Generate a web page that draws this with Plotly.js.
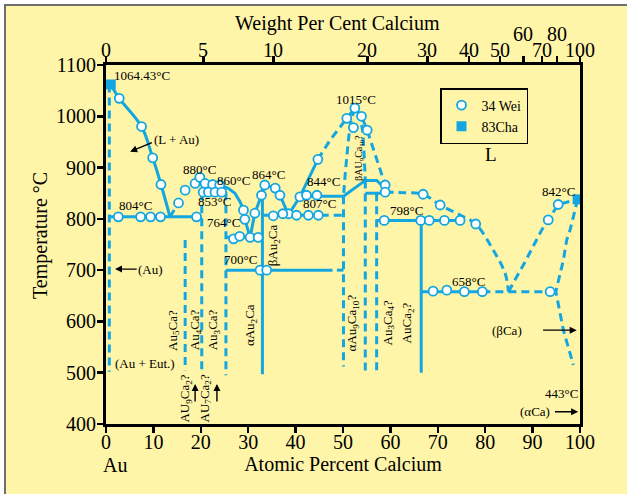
<!DOCTYPE html>
<html>
<head>
<meta charset="utf-8">
<script src="https://cdn.plot.ly/plotly-3.0.1.min.js"></script>
<style>
html,body{margin:0;padding:0;background:#ffffff;}
#plot{width:627px;height:494px;}
</style>
</head>
<body>
<div id="plot"></div>
<script>
// ---------- DATA (atomic % Ca, temperature °C) ----------
// Au-side liquidus
const auLiqX = [1, 2.8, 7.5, 9.85, 11.6, 13.5];
const auLiqT = [1062, 1035, 980, 919, 867, 804];
// 804 °C eutectic
const eut804X = [0.7, 20.2];
const eut804T = [804, 804];
// rising branch to 880 °C (dashed part, then solid part)
const rise880X = [13.5, 15.3, 16.7, 18.2];
const rise880T = [804, 831, 856, 868];
const liq880X = [18.2, 19.8, 20.9, 22.5, 24, 25.8, 27.2, 28.3, 29, 29.3, 29.9, 30.4];
const liq880T = [868, 881, 869, 867, 866, 859.5, 850, 833, 817, 799, 782, 764];
// 853 °C and 764 °C horizontals
const eut853X = [20.2, 25.3];
const eut853T = [852, 852];
const eut764X = [25.3, 33.0];
const eut764T = [764, 764];
// liquidus around Au2Ca (864 °C)
const liq864X = [30.4, 31.4, 32.8, 33.5, 35.7, 36.7, 38.5];
const liq864T = [764, 811, 846, 866, 860, 846, 808];
// Au2Ca line
const au2caX = [33.0, 33.0];
const au2caT = [866, 497];
// 700 °C transformation
const tr700X = [25.3, 47.8];
const tr700T = [700, 700];
const tr700bX = [48.7, 50.1];
const tr700bT = [700, 700];
// 807 °C eutectic
const eut807X = [33.0, 45.3];
const eut807T = [807, 807];
const eut807dX = [45.3, 50.1];
const eut807dT = [807, 807];
// liquidus to 1015 °C
const liq1015sX = [38.5, 40.9, 44.7];
const liq1015sT = [808, 843, 916];
const liq1015dX = [44.7, 47.3, 50.8, 52.5];
const liq1015dT = [916, 954, 996, 1016];
// 844 °C line and beta phase boundaries
const eut844X = [40.9, 50.1];
const eut844T = [844, 844];
const betaSolX = [50.1, 54.7, 57.1, 58.5];
const betaSolT = [844, 875, 875, 863];
const per850X = [54.7, 58.9];
const per850T = [850, 850];
const betaLeftX = [52.5, 51.6, 50.8, 50.1];
const betaLeftT = [1016, 985, 921, 844];
const betaRightX = [53.2, 54.0, 54.4, 54.7];
const betaRightT = [1008, 980, 934, 875];
const liqRightX = [52.5, 53.9, 55.1, 57, 58.9];
const liqRightT = [1016, 1000, 973, 920, 866];
// liquidus from 852 °C to 658 °C eutectic
const liqMidX = [58.9, 63, 66.9, 70.5, 75, 78, 81.7, 84.2, 84.9];
const liqMidT = [852, 851, 848, 827, 806, 790, 739, 694, 658];
// 798 °C line, AuCa2 line
const per798X = [57.1, 75.5];
const per798T = [797, 797];
const auca2X = [66.5, 66.5];
const auca2T = [797, 500];
// 658 °C eutectic
const eut658X = [66.5, 79.4];
const eut658T = [658, 658];
const eut658dX = [79.4, 94.9];
const eut658dT = [658, 658];
// Ca side liquidus and solvus
const caLiqX = [84.9, 88.4, 91.9, 93.3, 95.4, 99.5];
const caLiqT = [658, 716, 778, 798, 828, 838];
const caSolX = [99.5, 98.5, 97.9, 97.2, 96.5, 94.9, 96.5, 98.6];
const caSolT = [838, 800, 778, 759, 720, 658, 583, 515];
// dashed compound / phase verticals
const vertX = [0.7, 16.7, 20.2, 25.3, 50.1, 54.7, 57.1];
const vertTop = [1062, 759, 852, 852, 844, 875, 850];
const vertBot = [502, 505, 499, 495, 512, 499, 499];

// 34 Wei data points
const weiX = [2.8, 7.5, 9.85, 11.6,
  2.6, 7.3, 9.4, 11.5, 19.1,
  15.3, 16.7, 18.8, 19.8,
  20.9, 22.5, 24.0,
  20.5, 21.6, 23.0, 24.4,
  29.0, 29.3,
  26.9, 28.2, 30.4, 32.1,
  31.4, 32.8, 33.5, 35.7, 36.7, 38.5,
  35.3, 37.3,
  32.5, 33.9,
  40.2, 42.7, 44.8,
  40.9, 42.3, 44.5,
  44.7,
  50.8, 52.5, 53.9, 52.2, 55.1,
  58.9, 58.9,
  66.9, 70.5, 78.0,
  58.7, 66.4, 68.2, 71.4, 74.7,
  69.0, 71.9, 75.6, 79.4, 93.7,
  93.3, 95.4];
const weiT = [1035, 980, 919, 867,
  804, 804, 804, 804, 804,
  831, 856, 869, 881,
  869, 867, 866,
  852, 852, 852, 852,
  817, 799,
  761, 766, 764, 764,
  811, 846, 866, 860, 846, 810,
  806, 810,
  700, 700,
  807, 807, 807,
  843, 846, 846,
  916,
  996, 1016, 1000, 978, 973,
  866, 852,
  848, 827, 790,
  797, 797, 797, 797, 797,
  659, 661, 658, 658, 658,
  798, 828];
// 83Cha data points
const chaX = [1, 99.5];
const chaT = [1062, 838];

// top axis: weight per cent calcium
const wtTicks = [0, 5, 10, 20, 30, 40, 50, 60, 70, 80, 100];
const wtLabels = ['0', '5', '10', '20', '30', '40', '50', '60', '70', '80', '100'];
const wtRaised = [false, false, false, false, false, false, false, true, false, true, false];

// ---------- BUILD ----------
const CY = '#14A6E1';
const FONT = 'Liberation Serif, Times New Roman, serif';
const M_AU = 196.97, M_CA = 40.08;
function wtToAt(w) { const c = w / M_CA, a = (100 - w) / M_AU; return 100 * c / (c + a); }

const traces = [];
function seg(x, y, dashed, shape) {
  traces.push({type: 'scatter', mode: 'lines', x: x, y: y, hoverinfo: 'skip', showlegend: false,
    line: {color: CY, width: 3, dash: dashed ? '8px,5px' : 'solid', shape: shape || 'linear'}});
}
seg(auLiqX, auLiqT, false, 'spline');
seg(eut804X, eut804T, false);
seg(rise880X, rise880T, true);
seg(liq880X, liq880T, false);
seg(eut853X, eut853T, false);
seg(eut764X, eut764T, false);
seg(liq864X, liq864T, false);
seg(au2caX, au2caT, false);
seg(tr700X, tr700T, false);
seg(tr700bX, tr700bT, false);
seg(eut807X, eut807T, false);
seg(eut807dX, eut807dT, true);
seg(liq1015sX, liq1015sT, false);
seg(liq1015dX, liq1015dT, true);
seg(eut844X, eut844T, false);
seg(betaSolX, betaSolT, false);
seg(per850X, per850T, false);
seg(betaLeftX, betaLeftT, true, 'spline');
seg(betaRightX, betaRightT, true, 'spline');
seg(liqRightX, liqRightT, true);
seg(liqMidX, liqMidT, true, 'spline');
seg(per798X, per798T, false);
seg(auca2X, auca2T, false);
seg(eut658X, eut658T, false);
seg(eut658dX, eut658dT, true);
seg(caLiqX, caLiqT, true);
seg(caSolX, caSolT, true);
for (let i = 0; i < vertX.length; i++) {
  seg([vertX[i], vertX[i]], [vertTop[i], vertBot[i]], true);
}
traces.push({type: 'scatter', mode: 'markers', name: '34 Wei', x: weiX, y: weiT, hoverinfo: 'skip',
  marker: {symbol: 'circle', size: 9, color: '#ffffff', line: {color: CY, width: 1.8}}});
// squares drawn against the top axis (same 0-100 at.% scale) so that axis is rendered
traces.push({type: 'scatter', mode: 'markers', name: '83Cha', x: chaX, y: chaT, xaxis: 'x2', hoverinfo: 'skip',
  marker: {symbol: 'square', size: 10, color: CY, line: {color: CY, width: 0}}});

function lab(t, x, y, o) {
  return Object.assign({text: t, x: x, y: y, xref: 'x', yref: 'y', showarrow: false,
    xanchor: 'center', yanchor: 'middle',
    font: {family: FONT, size: 13, color: '#000'}}, o || {});
}
function rot(t, x, y, o) { return lab(t, x, y, Object.assign({textangle: -90}, o || {})); }
function arr(x, y, ax, ay) {
  return {text: '', x: x, y: y, ax: ax, ay: ay, xref: 'x', yref: 'y', axref: 'x', ayref: 'y',
    showarrow: true, arrowhead: 2, arrowsize: 1, arrowwidth: 1.4, arrowcolor: '#000', standoff: 0, startstandoff: 0};
}
const axisFont = {family: FONT, size: 20, color: '#000'};
const annotations = [
  lab('1064.43°C', 1.3, 1080, {xanchor: 'left'}),
  lab('(L + Au)', 14.9, 954),
  lab('880°C', 19.8, 897),
  lab('860°C', 26.8, 874),
  lab('853°C', 22.8, 834),
  lab('864°C', 34.2, 886),
  lab('764°C', 24.7, 792),
  lab('804°C', 6.3, 827),
  lab('844°C', 45.8, 872),
  lab('807°C', 45.0, 829),
  lab('1015°C', 52.7, 1033),
  lab('798°C', 63.3, 817),
  lab('658°C', 76.4, 677),
  lab('842°C', 95.4, 853),
  lab('700°C', 28.3, 720),
  lab('L', 81.2, 925, {font: {family: FONT, size: 19, color: '#000'}}),
  lab('(Au)', 9.3, 702),
  lab('(Au + Eut.)', 8.2, 518),
  lab('(βCa)', 84.5, 583),
  lab('443°C', 96.1, 460),
  lab('(αCa)', 90.5, 424),
  rot('Au<sub>5</sub>Ca?', 14.1, 583),
  rot('Au<sub>4</sub>Ca?', 18.8, 583),
  rot('Au<sub>3</sub>Ca?', 22.6, 583),
  rot('αAu<sub>2</sub>Ca', 30.4, 593),
  rot('βAu<sub>2</sub>Ca', 35.3, 749),
  rot('AU<sub>9</sub>Ca<sub>2</sub>?', 16.7, 450),
  rot('AU<sub>7</sub>Ca<sub>2</sub>?', 20.9, 450),
  rot('αAu<sub>9</sub>Ca<sub>10</sub>?', 52.2, 597),
  rot('Au<sub>3</sub>Ca<sub>4</sub>?', 59.6, 597),
  rot('AuCa<sub>2</sub>?', 63.8, 597),
  rot('βAU<sub>9</sub>Ca<sub>10</sub>?', 53.6, 919, {font: {family: FONT, size: 10, color: '#000'}}),
  arr(5.1, 931, 10, 950),
  arr(1.9, 702, 6.8, 702),
  arr(99.3, 583, 91.9, 583),
  arr(99.6, 424, 94.4, 424),
  arr(18.8, 478, 18.8, 441),
  arr(23.4, 478, 23.4, 441)
];
const px = function (p) { return (p - 106) / 474; };
const py = function (p) { return (424 - p) / 359; };
// top (weight %) tick labels, placed at the converted at.% positions
wtTicks.forEach(function (w, i) {
  annotations.push({text: wtLabels[i], x: wtToAt(w), y: py(wtRaised[i] ? 34 : 50), xref: 'x', yref: 'paper',
    xanchor: 'center', yanchor: 'middle', showarrow: false, font: axisFont});
});
// Au / Ca end labels
annotations.push({text: 'Au', x: 1.9, y: py(465), xref: 'x', yref: 'paper', xanchor: 'center', yanchor: 'middle',
  showarrow: false, font: axisFont});
annotations.push({text: 'Ca', x: 101.3, y: py(465), xref: 'x', yref: 'paper', xanchor: 'center', yanchor: 'middle',
  showarrow: false, font: axisFont});
// top axis title and temperature axis title
annotations.push({text: 'Weight Per Cent Calcium', x: px(337), y: py(23), xref: 'paper', yref: 'paper',
  xanchor: 'center', yanchor: 'middle', showarrow: false, font: axisFont});
annotations.push({text: 'Temperature °C', x: px(40), y: py(236), xref: 'paper', yref: 'paper', textangle: -90,
  xanchor: 'center', yanchor: 'middle', showarrow: false, font: axisFont});

const shapes = [
  {type: 'rect', xref: 'paper', yref: 'paper', x0: px(-2), x1: px(4), y0: py(496), y1: py(-2), fillcolor: '#ffffff', line: {width: 0}},
  {type: 'rect', xref: 'paper', yref: 'paper', x0: px(-2), x1: px(630), y0: py(4), y1: py(-2), fillcolor: '#ffffff', line: {width: 0}},
  {type: 'line', xref: 'paper', yref: 'paper', x0: px(5), x1: px(5), y0: py(4), y1: py(496), line: {color: '#6e6e6e', width: 2}},
  {type: 'line', xref: 'paper', yref: 'paper', x0: px(4), x1: px(630), y0: py(5), y1: py(5), line: {color: '#6e6e6e', width: 2}}
];

const layout = {
  width: 627, height: 494,
  margin: {l: 106, r: 47, t: 65, b: 70, pad: 0},
  paper_bgcolor: '#FFF5A8', plot_bgcolor: '#FFF5A8',
  font: {family: FONT, color: '#000'},
  showlegend: true,
  legend: {x: px(440), y: py(88), xanchor: 'left', yanchor: 'top', bgcolor: '#FFF5A8',
    bordercolor: '#000', borderwidth: 1.5, font: {family: FONT, size: 14, color: '#000'},
    itemwidth: 30, tracegroupgap: 0},
  xaxis: {range: [0, 100], dtick: 10, tick0: 0, showgrid: false, zeroline: false,
    showline: true, linecolor: '#000', linewidth: 3, mirror: false,
    ticks: 'outside', ticklen: 6, tickwidth: 2.5, tickcolor: '#000', tickfont: axisFont,
    ticklabelstandoff: -8,
    title: {text: 'Atomic Percent Calcium', font: axisFont, standoff: 4}},
  xaxis2: {range: [0, 100], overlaying: 'x', side: 'top', anchor: 'y', showgrid: false, zeroline: false,
    showline: true, linecolor: '#000', linewidth: 3,
    tickmode: 'array', tickvals: wtTicks.map(wtToAt), showticklabels: false,
    ticks: 'outside', ticklen: 6, tickwidth: 2.5, tickcolor: '#000'},
  yaxis: {range: [400, 1100], dtick: 100, tick0: 400, showgrid: false, zeroline: false,
    showline: true, linecolor: '#000', linewidth: 3, mirror: true,
    ticks: 'outside', ticklen: 6, tickwidth: 2.5, tickcolor: '#000', tickfont: axisFont,
    ticklabelstandoff: -3},
  annotations: annotations,
  shapes: shapes
};
Plotly.newPlot('plot', traces, layout, {displayModeBar: false, staticPlot: true});
</script>
</body>
</html>
